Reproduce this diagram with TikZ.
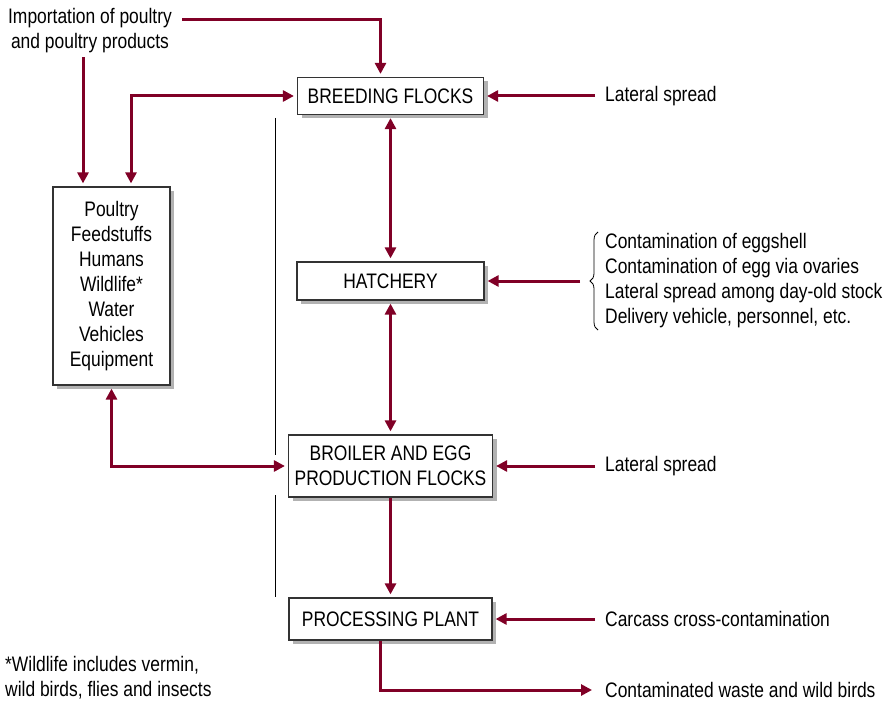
\documentclass[tikz,border=0pt]{standalone}
\usepackage{fontspec}
\setmainfont{Liberation Sans}[FakeStretch=0.83]
\usetikzlibrary{arrows.meta,shadows,decorations.pathreplacing}
\definecolor{flowred}{RGB}{128,0,38}

\tikzset{
  stage/.style={rectangle, draw=black!80, line width=1.2pt, fill=white,
    align=center, inner sep=0pt,
    drop shadow={shadow xshift=4pt, shadow yshift=-4pt, fill=black!30, opacity=1}},
  lbl/.style={inner sep=0pt, align=center},
  flow/.style={draw=flowred, line width=3pt, shorten >=3pt,
    -{Triangle[length=11pt,width=11pt]}},
  twoway/.style={flow, shorten <=3pt,
    {Triangle[length=11pt,width=11pt]}-{Triangle[length=11pt,width=11pt]}},
  divider/.style={draw=black, line width=0.8pt}
}

\begin{document}
\begin{tikzpicture}[x=1pt, y=-1pt, font=\fontsize{21}{25}\selectfont]
    \useasboundingbox (0,0) rectangle (885,703);

    % Place stages
    \node [stage, minimum width=186pt, minimum height=37pt] (breeding) at (390.5,96) {BREEDING FLOCKS};
    \node [stage, minimum width=187pt, minimum height=38pt] (hatchery) at (390.5,281) {HATCHERY};
    \node [stage, minimum width=204pt, minimum height=62pt] (broiler) at (390.5,466) {BROILER AND EGG\\PRODUCTION FLOCKS};
    \node [stage, minimum width=203pt, minimum height=42pt] (plant) at (390.5,619) {PROCESSING PLANT};
    \node [stage, minimum width=117pt, minimum height=198pt] (sources) at (111.5,286)
        {Poultry\\Feedstuffs\\Humans\\Wildlife*\\Water\\Vehicles\\Equipment};

    % Place labels
    \node [lbl] (import) at (90,31) {Importation of poultry\\and poultry products};
    \node [lbl, anchor=west] (spreadtop) at (605,96) {Lateral spread};
    \node [lbl, anchor=west, align=left] (eggnotes) at (605,281)
        {Contamination of eggshell\\Contamination of egg via ovaries\\Lateral spread among day-old stock\\Delivery vehicle, personnel, etc.};
    \node [lbl, anchor=west] (spreadmid) at (605,466) {Lateral spread};
    \node [lbl, anchor=west] (carcass) at (605,619) {Carcass cross-contamination};
    \node [lbl, anchor=west] (waste) at (605,690) {Contaminated waste and wild birds};
    \node [lbl, anchor=north west, align=left] (note) at (5,656) {*Wildlife includes vermin,\\wild birds, flies and insects};

    \coordinate (impout) at (182,20);
    \coordinate (srcin) at ([xshift=-28.5pt]sources.north);

    % Connectors
    \draw [flow] (impout) -| ([xshift=-10pt]breeding.north);
    \draw [flow, shorten <=4pt] (import.south -| srcin) -- (srcin);
    \draw [twoway] ([xshift=19.5pt]sources.north) |- (breeding.west);
    \draw [twoway] (sources.south) |- (broiler.west);
    \draw [flow] ([xshift=-10pt]spreadtop.west) -- (breeding.east);
    \draw [twoway] (breeding.south) -- (hatchery.north);
    \draw [flow] ([xshift=-25pt]eggnotes.west) -- (hatchery.east);
    \draw [twoway] (hatchery.south) -- (broiler.north);
    \draw [flow] ([xshift=-10pt]spreadmid.west) -- (broiler.east);
    \draw [flow] (broiler.south) -- (plant.north);
    \draw [flow] ([xshift=-10pt]carcass.west) -- (plant.east);
    \draw [flow] ([xshift=-10pt]plant.south) |- ([xshift=-10pt]waste.west);

    % Brace and divider
    \draw [decorate, decoration={brace, amplitude=8pt, mirror}, line width=0.8pt] (598,232) -- (598,330);
    \draw [divider] (275,118) -- (275,455);
    \draw [divider] (275,495) -- (275,597);

\end{tikzpicture}
\end{document}
